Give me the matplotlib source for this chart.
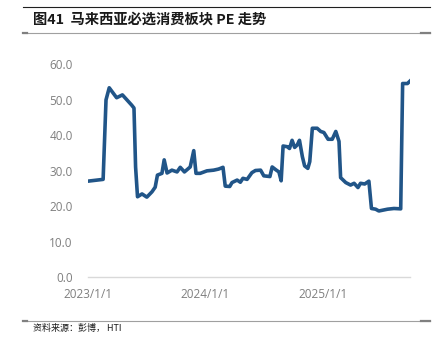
import matplotlib.pyplot as plt
import matplotlib.dates as mdates
from matplotlib.lines import Line2D
import pandas as pd

plt.rcParams['font.family'] = ['Noto Sans CJK SC', 'DejaVu Sans']

# Malaysia consumer staples sector PE
dates = ['2023-01-01', '2023-02-17', '2023-02-26', '2023-03-08', '2023-03-31',
         '2023-04-18', '2023-05-02', '2023-05-17', '2023-05-24', '2023-05-29',
         '2023-06-04', '2023-06-18', '2023-07-03', '2023-07-19', '2023-07-29',
         '2023-08-05', '2023-08-19', '2023-08-26', '2023-09-04', '2023-09-19',
         '2023-10-05', '2023-10-15', '2023-10-28', '2023-11-15', '2023-11-26',
         '2023-12-03', '2023-12-16', '2024-01-06', '2024-01-27', '2024-02-11',
         '2024-02-17', '2024-02-25', '2024-03-03', '2024-03-17', '2024-03-24',
         '2024-04-09', '2024-04-19', '2024-04-27', '2024-05-10', '2024-05-25',
         '2024-06-05', '2024-06-21', '2024-07-01', '2024-07-20', '2024-07-27',
         '2024-08-09', '2024-08-17', '2024-08-24', '2024-08-30', '2024-09-12',
         '2024-09-19', '2024-09-27', '2024-10-05', '2024-10-13', '2024-10-20',
         '2024-10-29', '2024-11-05', '2024-11-15', '2024-11-21', '2024-11-29',
         '2024-12-14', '2024-12-25', '2025-01-04', '2025-01-17', '2025-01-30',
         '2025-02-10', '2025-02-20', '2025-02-25', '2025-03-13', '2025-03-28',
         '2025-04-08', '2025-04-20', '2025-04-28', '2025-05-11', '2025-05-24',
         '2025-06-01', '2025-06-14', '2025-06-24', '2025-07-21', '2025-08-10',
         '2025-08-31', '2025-09-06', '2025-09-21', '2025-09-29']
pe = [27.0, 27.5, 49.9, 53.3, 50.5,
      51.3, 49.9, 48.4, 47.6, 31.0,
      22.6, 23.4, 22.5, 24.0, 25.3,
      28.7, 29.2, 33.0, 29.3, 30.1,
      29.6, 30.9, 29.6, 31.0, 35.6,
      29.2, 29.2, 29.9, 30.1, 30.4,
      30.6, 30.9, 25.6, 25.5, 26.6,
      27.3, 26.7, 27.8, 27.5, 29.4,
      30.0, 30.1, 28.5, 28.3, 31.0,
      30.1, 29.6, 27.1, 36.9, 36.7,
      36.2, 38.5, 36.5, 37.2, 38.5,
      33.9, 31.3, 30.6, 32.5, 41.9,
      41.9, 41.0, 40.7, 38.8, 38.8,
      41.0, 38.2, 28.0, 26.6, 25.9,
      26.4, 25.2, 26.4, 26.2, 27.0,
      19.3, 19.1, 18.6, 19.1, 19.3,
      19.2, 54.5, 54.5, 55.2]
x_ticks = ['2023-01-01', '2024-01-01', '2025-01-01']
x_labels = ['2023/1/1', '2024/1/1', '2025/1/1']

dates = pd.to_datetime(dates)

fig = plt.figure(figsize=(4.39, 3.43), dpi=100)
ax = fig.add_axes([0.2005, 0.1924, 0.7335, 0.621])

ax.plot(dates, pe, color='#215588', linewidth=2.6, solid_joinstyle='round')

ax.set_ylim(0, 60)
ax.set_yticks(range(0, 61, 10))
ax.set_yticklabels([f'{v:.1f}' for v in range(0, 61, 10)])
ax.set_xlim(dates[0], dates[-1])
ax.set_xticks(pd.to_datetime(x_ticks))
ax.set_xticklabels(x_labels)

for s in ['top', 'right', 'left']:
    ax.spines[s].set_visible(False)
ax.spines['bottom'].set_color('#d9d9d9')
ax.spines['bottom'].set_linewidth(1.0)
ax.tick_params(length=0, labelsize=8.5, labelcolor='#7f7f7f', pad=8)
ax.tick_params(axis='y', pad=11)
for lab in ax.get_xticklabels() + ax.get_yticklabels():
    lab.set_family(['Open Sans', 'DejaVu Sans'])

# page rules and captions
W, H = 439, 343
def hline(y, x0, x1, color, lw):
    fig.add_artist(Line2D([x0 / W, x1 / W], [1 - y / H, 1 - y / H],
                          color=color, linewidth=lw, transform=fig.transFigure))

hline(7, 23, 430, '#202020', 0.8)
hline(33, 23, 430, '#a0a0a0', 0.8)
hline(33, 23, 27, '#808080', 1.6)
hline(33, 421, 430, '#808080', 1.6)
hline(321, 23, 430, '#a0a0a0', 0.8)
hline(321, 23, 27, '#808080', 1.6)
hline(321, 421, 430, '#808080', 1.6)

fig.text(33 / W, 1 - 20 / H, '图41  马来西亚必选消费板块 PE 走势', fontsize=10.3,
         fontweight='bold', va='center', ha='left', color='#1a1a1a')
fig.text(33 / W, 1 - 328 / H, '资料来源：彭博， HTI', fontsize=6.5,
         va='center', ha='left', color='#1a1a1a')

fig.savefig('out.png', dpi=100)
